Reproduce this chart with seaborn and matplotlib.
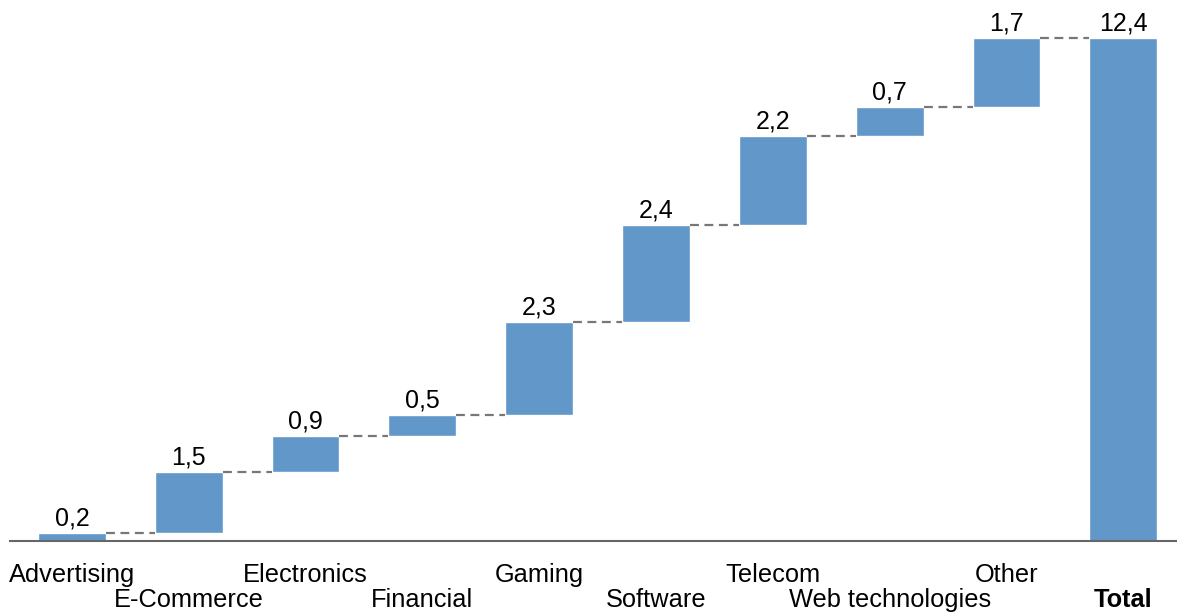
import numpy as np
import pandas as pd
import seaborn as sns
from matplotlib import pyplot as plt

categories = ['Advertising', 'E-Commerce', 'Electronics', 'Financial', 'Gaming',
              'Software', 'Telecom', 'Web technologies', 'Other', 'Total']
values = [0.2, 1.5, 0.9, 0.5, 2.3, 2.4, 2.2, 0.7, 1.7]
total = 12.4

# bar bottoms: running sum for the steps, 0 for the total
steps = np.array(values)
bottoms = np.concatenate([np.cumsum(steps) - steps, [0]])
heights = np.concatenate([steps, [total]])
tops = bottoms + heights
labels = ['{:.1f}'.format(v).replace('.', ',') for v in list(values) + [total]]

df = pd.DataFrame({'category': categories, 'height': heights, 'bottom': bottoms})

sns.set_style('white')
plt.rcParams['font.family'] = ['Liberation Sans', 'DejaVu Sans']

fig = plt.figure(figsize=(11.77, 6.14), dpi=100)
ax = fig.add_axes([10 / 1177, 73 / 614, 1 - 10 / 1177, 531 / 614])

w = 0.58
sns.barplot(data=df, x='category', y='height', bottom=df['bottom'].values,
            color='#6197C9', saturation=1, width=w, ax=ax)

for i in range(len(categories) - 1):
    ax.plot([i + w / 2, i + 1 - w / 2], [tops[i], tops[i]],
            color='#777777', lw=1.6, ls=(0, (4, 2.5)))

for i, lab in enumerate(labels):
    ax.text(i, tops[i] + 0.06, lab, ha='center', va='bottom', fontsize=18, color='black')

ax.set_xlim(-0.53, 9.46)
ax.set_ylim(0, 13.1)
ax.set_xlabel('')
ax.set_ylabel('')
ax.set_yticks([])
ax.tick_params(axis='x', length=0, labelsize=18.3, colors='black')
for i, t in enumerate(ax.xaxis.get_major_ticks()):
    t.set_pad(16 if i % 2 == 0 else 34)
ax.get_xticklabels()[-1].set_fontweight('bold')

for s in ['top', 'right', 'left']:
    ax.spines[s].set_visible(False)
ax.spines['bottom'].set_color('#666666')
ax.spines['bottom'].set_linewidth(1.5)

fig.savefig('out.png', dpi=100)
